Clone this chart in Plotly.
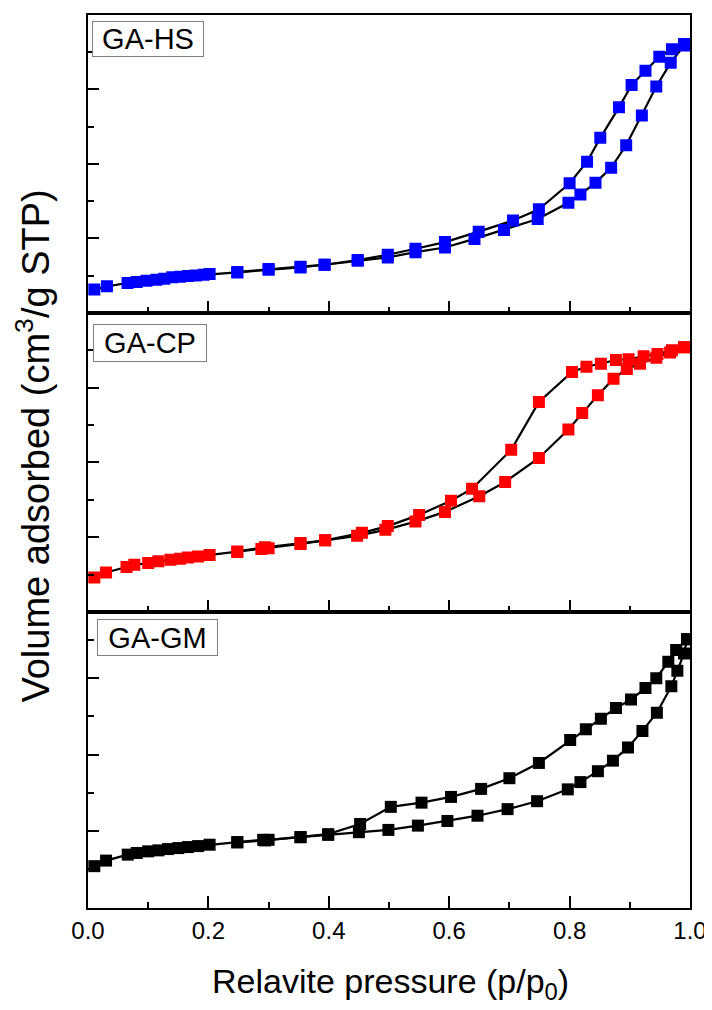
import plotly.graph_objects as go

# ---------------- data (arbitrary y units) ----------------
hs_ads_p = [0.0105, 0.0315, 0.0657, 0.0808, 0.0972, 0.1136, 0.1267, 0.1399, 0.153, 0.166, 0.179, 0.192, 0.202,
            0.248, 0.30, 0.353, 0.393, 0.448, 0.498, 0.544, 0.593, 0.642, 0.691, 0.747, 0.798, 0.818, 0.843,
            0.869, 0.894, 0.92, 0.944, 0.968, 0.99]
hs_ads_v = [31.2, 35.6, 40.1, 41.4, 43.2, 44.5, 45.9, 47.7, 48.5, 49.4, 50.3, 51.2, 52.1,
            54.3, 57.9, 61.0, 64.6, 69.9, 74.4, 81.5, 87.7, 99.3, 111.4, 126, 147.9, 159, 174.6,
            195, 225, 265, 304, 336, 359]
hs_des_p = [0.99, 0.97, 0.949, 0.926, 0.903, 0.882, 0.851, 0.829, 0.80, 0.749, 0.706, 0.649, 0.593, 0.544,
            0.498, 0.448, 0.393, 0.353, 0.30, 0.248]
hs_des_v = [361, 354, 344, 325, 306, 276, 235, 203, 174, 139, 124, 109, 95, 86,
            78, 71, 64.6, 62, 58.8, 54.8]

cp_ads_p = [0.0105, 0.030, 0.064, 0.077, 0.10, 0.117, 0.137, 0.153, 0.166, 0.183, 0.202, 0.248, 0.288, 0.30,
            0.353, 0.394, 0.447, 0.494, 0.544, 0.593, 0.65, 0.693, 0.749, 0.798, 0.821, 0.847, 0.873, 0.895,
            0.917, 0.944, 0.967, 0.99]
cp_ads_v = [46.4, 53.1, 60.3, 63.4, 65.6, 67.9, 70.1, 71.4, 73.2, 74.5, 76.3, 80.4, 84.4, 85.3,
            91.1, 96, 102, 110, 121, 134, 155, 174, 206, 244, 266, 290, 312, 325,
            332, 340, 347, 354]
cp_des_p = [0.99, 0.97, 0.946, 0.923, 0.898, 0.877, 0.852, 0.828, 0.804, 0.749, 0.703, 0.638, 0.603, 0.55,
            0.498, 0.455, 0.394, 0.353, 0.294, 0.248]
cp_des_v = [354, 350, 345, 342, 338, 337, 332, 328, 321, 281, 217, 165, 149, 130,
            115, 106, 96, 92.4, 86.6, 81.2]

gm_ads_p = [0.0105, 0.030, 0.066, 0.081, 0.10, 0.117, 0.133, 0.15, 0.166, 0.183, 0.202, 0.248, 0.291, 0.30,
            0.353, 0.399, 0.45, 0.499, 0.548, 0.597, 0.647, 0.697, 0.746, 0.797, 0.818, 0.847, 0.872, 0.897,
            0.921, 0.945, 0.969, 0.979, 0.99, 0.995]
gm_ads_v = [53.8, 61.1, 68.9, 71.1, 73.2, 74.5, 76.2, 77.5, 78.8, 80.1, 81.9, 85.3, 88.3, 88.3,
            91.8, 94.8, 98.3, 101.3, 106.9, 113, 119.9, 128.5, 138.9, 154.4, 163.9, 178.2, 192, 209.3,
            231, 254.8, 289.3, 309.6, 332.5, 351]
gm_des_p = [0.995, 0.977, 0.964, 0.944, 0.926, 0.902, 0.877, 0.852, 0.827, 0.801, 0.749, 0.70, 0.653, 0.603,
            0.554, 0.503, 0.452, 0.399, 0.353, 0.294, 0.248]
gm_des_v = [351, 337, 321.6, 300, 287, 272, 261, 247, 233, 219, 189, 169, 155, 144.5,
            137, 131.5, 109, 95.7, 91.8, 87.5, 84.9]

sample_names = ["GA-HS", "GA-CP", "GA-GM"]
sample_colors = ["#0000FF", "#FF0000", "#000000"]

x_ticks = [0.0, 0.2, 0.4, 0.6, 0.8, 1.0]
x_ticklabels = ["0.0", "0.2", "0.4", "0.6", "0.8", "1.0"]

panels = [
    (hs_ads_p, hs_ads_v, hs_des_p, hs_des_v, [0, 400]),
    (cp_ads_p, cp_ads_v, cp_des_p, cp_des_v, [0, 400]),
    (gm_ads_p, gm_ads_v, gm_des_p, gm_des_v, [-1, 386.5]),
]

FONT = "Liberation Sans, Arial, Helvetica, sans-serif"

# page geometry (the html body adds an 8px offset)
OFF = 8
PL, PR, PT, PB = 88, 690, 13, 908            # plot area in page pixels
W, H = 712 - OFF, 1010 - OFF
BOUNDS = [PT, 311.5, 611.5, PB]               # panel boundaries (page y)


def fy(page_y):
    return (PB - page_y) / (PB - PT)


def fx(page_x):
    return (page_x - PL) / (PR - PL)


# label boxes: left, top, width, height (page px)
boxes = [(92, 19, 112, 36), (93, 323, 114, 38), (97, 618, 121, 37)]

fig = go.Figure()
n = len(panels)
for i, (ap, av, dp, dv, yr) in enumerate(panels):
    idx = i + 1
    xa = "x" if idx == 1 else f"x{idx}"
    ya = "y" if idx == 1 else f"y{idx}"
    for px, pv in ((ap, av), (dp, dv)):
        fig.add_trace(go.Scatter(
            x=px, y=pv, xaxis=xa, yaxis=ya, mode="lines",
            line=dict(color="black", width=2.2), showlegend=False, hoverinfo="skip"))
    for px, pv in ((ap, av), (dp, dv)):
        fig.add_trace(go.Scatter(
            x=px, y=pv, xaxis=xa, yaxis=ya, mode="markers",
            marker=dict(symbol="square", size=12, color=sample_colors[i], line=dict(width=0)),
            showlegend=False, name=sample_names[i]))
    xkey = "xaxis" if idx == 1 else f"xaxis{idx}"
    ykey = "yaxis" if idx == 1 else f"yaxis{idx}"
    fig.layout[xkey] = dict(
        domain=[0, 1], anchor=ya, range=[0, 1],
        showline=True, linecolor="black", linewidth=1.6, mirror=True,
        ticks="inside", ticklen=12, tickwidth=1.5, tickcolor="black",
        tickvals=x_ticks, ticktext=x_ticklabels,
        showticklabels=(idx == n),
        minor=dict(ticks="inside", ticklen=6, tickwidth=1.5, tickcolor="black", dtick=0.1, tick0=0),
        showgrid=False, zeroline=False,
        tickfont=dict(family=FONT, size=24, color="black"),
        **({} if idx == 1 else {"matches": "x"}),
    )
    fig.layout[ykey] = dict(
        domain=[fy(BOUNDS[i + 1]), fy(BOUNDS[i])], anchor=xa, range=yr,
        showline=True, linecolor="black", linewidth=1.6, mirror=True,
        ticks="inside", ticklen=11, tickwidth=1.5, tickcolor="black",
        tickvals=[100, 200, 300], showticklabels=False,
        minor=dict(ticks="inside", ticklen=6, tickwidth=1.5, tickcolor="black",
                   tickvals=[50, 150, 250, 350]),
        showgrid=False, zeroline=False,
    )
    bl, bt, bw, bh = boxes[i]
    fig.add_annotation(
        text=sample_names[i], xref="paper", yref="paper",
        x=fx(bl), y=fy(bt), xanchor="left", yanchor="top", showarrow=False,
        width=bw - 2, height=bh - 2, align="center", valign="middle",
        font=dict(family=FONT, size=29, color="black"),
        bordercolor="#808080", borderwidth=1, borderpad=0, bgcolor="white",
    )

fig.add_annotation(
    text="Volume adsorbed (cm<sup>3</sup>/g STP)", xref="paper", yref="paper",
    x=fx(33), y=fy(445.5), xanchor="center", yanchor="middle", textangle=-90, showarrow=False,
    font=dict(family=FONT, size=38, color="black"))
fig.add_annotation(
    text="Relavite pressure (p/p<sub>0</sub>)", xref="paper", yref="paper",
    x=fx(390), y=fy(984), xanchor="center", yanchor="middle", showarrow=False,
    font=dict(family=FONT, size=34, color="black"))

fig.update_layout(
    width=W, height=H,
    margin=dict(l=PL - OFF, r=W - (PR - OFF), t=PT - OFF, b=H - (PB - OFF)),
    paper_bgcolor="white", plot_bgcolor="white",
    showlegend=False,
)

fig.write_html("out.html")
